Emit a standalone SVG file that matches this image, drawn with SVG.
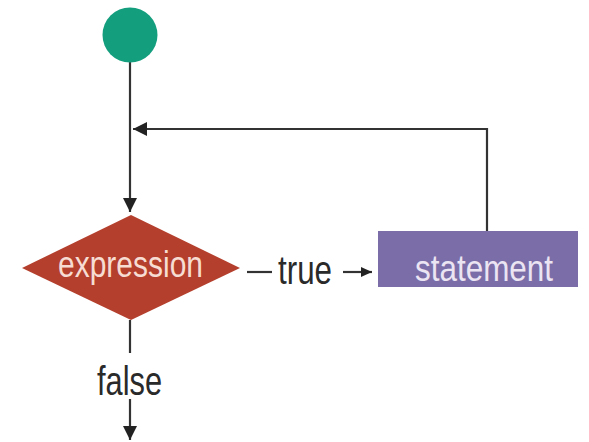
<svg xmlns="http://www.w3.org/2000/svg" width="589" height="442" viewBox="0 0 589 442">
<style>
.ln{stroke:#333;stroke-width:2.2;fill:none}
.t{font-family:"Liberation Sans",Arial,sans-serif;font-size:40px}
.s{font-size:36px}
.dark{fill:#2a2a2a}
</style>
<defs>
<marker id="ah" viewBox="0 0 10 10" refX="10" refY="5" markerWidth="11" markerHeight="10" markerUnits="userSpaceOnUse" orient="auto" preserveAspectRatio="none">
<path d="M0,0 L10,5 L0,10 Z" fill="#222"/>
</marker>
<marker id="ahb" viewBox="0 0 10 10" refX="10" refY="5" markerWidth="14" markerHeight="14" markerUnits="userSpaceOnUse" orient="auto" preserveAspectRatio="none">
<path d="M0,0 L10,5 L0,10 Z" fill="#222"/>
</marker>
</defs>
<rect width="589" height="442" fill="#fff"/>
<g id="connectors">
<line class="ln" x1="130" y1="62" x2="130" y2="212" marker-end="url(#ahb)"/>
<polyline class="ln" points="487,231 487,129 133,129" marker-end="url(#ahb)"/>
<line class="ln" x1="247" y1="272" x2="272" y2="272"/>
<text class="t dark" x="278" y="284" textLength="54" lengthAdjust="spacingAndGlyphs">true</text>
<line class="ln" x1="343" y1="272" x2="372" y2="272" marker-end="url(#ah)"/>
<line class="ln" x1="130" y1="320" x2="130" y2="353"/>
<text class="t dark" x="97" y="395" textLength="65" lengthAdjust="spacingAndGlyphs">false</text>
<line class="ln" x1="130" y1="399" x2="130" y2="440" marker-end="url(#ahb)"/>
</g>
<g id="start">
<circle cx="130" cy="35" r="27.5" fill="#139e7e"/>
</g>
<g id="expression">
<polygon points="131,215 240,268 131,320 22,268" fill="#b43f2c"/>
<text class="t s" x="58" y="277" fill="#f6dcd2" textLength="145" lengthAdjust="spacingAndGlyphs">expression</text>
</g>
<g id="statement">
<rect x="378" y="231" width="200" height="56" fill="#7b6ea8"/>
<text class="t s" x="415" y="281" fill="#ebe4f3" textLength="138" lengthAdjust="spacingAndGlyphs">statement</text>
</g>
</svg>
